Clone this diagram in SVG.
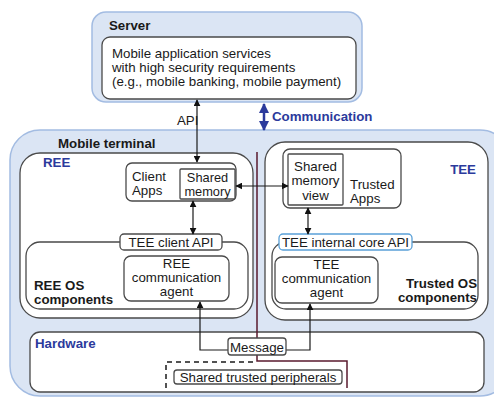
<svg xmlns="http://www.w3.org/2000/svg" width="494" height="401" viewBox="0 0 494 401">
<defs>
<marker id="ah" viewBox="0 0 10 10" refX="9" refY="5" markerWidth="7" markerHeight="7" orient="auto-start-reverse" markerUnits="userSpaceOnUse"><path d="M0,0 L10,5 L0,10 z" fill="#111"/></marker>
<marker id="bh" viewBox="0 0 10 10" refX="9" refY="5" markerWidth="10" markerHeight="10" orient="auto-start-reverse" markerUnits="userSpaceOnUse"><path d="M0,0 L10,5 L0,10 z" fill="#2b3a9c"/></marker>
<style>
text{font-family:"Liberation Sans",Arial,sans-serif;font-size:13.3px;fill:#1a1a1a}
.b{font-weight:bold}
.bl{font-weight:bold;fill:#2b3a9c}
.c{text-anchor:middle}
.r{text-anchor:end}
.s{font-size:12.8px}
.outer{fill:#dbe5f4;stroke:#a3bce2;stroke-width:1.5}
.box{fill:#fff;stroke:#4a4a4a;stroke-width:1.3}
.ln{fill:none;stroke:#1a1a1a;stroke-width:1.2}
</style>
</defs>
<g id="server">
<rect class="outer" x="92" y="12" width="270" height="90" rx="14"/>
<text class="b" x="109" y="30">Server</text>
<rect class="box" x="102" y="37" width="254" height="62" rx="8"/>
<text x="112" y="58">Mobile application services</text>
<text x="112" y="72">with high security requirements</text>
<text x="112" y="86">(e.g., mobile banking, mobile payment)</text>
</g>
<g id="mobile-terminal">
<rect class="outer" x="10" y="130" width="500" height="266" rx="30"/>
<text class="b" x="58" y="148">Mobile terminal</text>
</g>
<g id="ree">
<rect class="box" x="20" y="153" width="233" height="165" rx="20"/>
<text class="bl" x="43" y="167">REE</text>
</g>
<g id="tee">
<rect class="box" x="265" y="142" width="223" height="178" rx="20"/>
<text class="bl r" x="476" y="174">TEE</text>
</g>
<g id="client-apps">
<rect class="box" x="126" y="163" width="110" height="38" rx="6"/>
<text x="132" y="181">Client</text>
<text x="132" y="195">Apps</text>
</g>
<g id="shared-memory">
<rect class="box" x="180" y="169" width="55" height="30" rx="1"/>
<text class="c s" x="207.5" y="181.5">Shared</text>
<text class="c s" x="207.5" y="196">memory</text>
</g>
<g id="trusted-apps">
<rect class="box" x="283" y="149" width="118" height="59" rx="7"/>
<text x="350" y="189">Trusted</text>
<text x="350" y="203">Apps</text>
</g>
<g id="shared-memory-view">
<rect class="box" x="288" y="154" width="55" height="51" rx="1"/>
<text class="c" x="315.5" y="170.5">Shared</text>
<text class="c" x="315.5" y="185">memory</text>
<text class="c" x="315.5" y="199.5">view</text>
</g>
<g id="ree-os">
<rect class="box" x="26" y="242" width="222" height="67" rx="14"/>
<text class="b" x="34" y="290">REE OS</text>
<text class="b" x="34" y="304">components</text>
</g>
<g id="tee-client-api">
<rect class="box" x="120" y="234" width="102" height="16" rx="4"/>
<text class="c" x="171" y="247">TEE client API</text>
</g>
<g id="ree-agent">
<rect class="box" x="124" y="256" width="105" height="45" rx="7"/>
<text class="c" x="176.5" y="268">REE</text>
<text class="c" x="176.5" y="282">communication</text>
<text class="c" x="176.5" y="296">agent</text>
</g>
<g id="trusted-os">
<rect class="box" x="272" y="242" width="206" height="67" rx="14"/>
<text class="b r" x="477" y="288">Trusted OS</text>
<text class="b r" x="477" y="302">components</text>
</g>
<g id="tee-internal-api">
<rect x="279" y="234" width="133" height="16" rx="4" fill="#fff" stroke="#5aa0d8" stroke-width="1.3"/>
<text class="c" x="345.5" y="247">TEE internal core API</text>
</g>
<g id="tee-agent">
<rect class="box" x="275" y="257" width="103" height="46" rx="7"/>
<text class="c" x="326.5" y="269">TEE</text>
<text class="c" x="326.5" y="283">communication</text>
<text class="c" x="326.5" y="297">agent</text>
</g>
<g id="hardware">
<rect class="box" x="30" y="332" width="454" height="60" rx="10"/>
<text class="bl" x="35" y="348">Hardware</text>
</g>
<g id="peripherals">
<path d="M166,388 V362 H254" fill="none" stroke="#1a1a1a" stroke-width="1.5" stroke-dasharray="5,4"/>
<rect class="box" x="174" y="370" width="168" height="14" rx="3"/>
<text class="c" x="258" y="381.5">Shared trusted peripherals</text>
</g>
<g id="connectors">
<path d="M257,152 V361 H347 V388" fill="none" stroke="#5a1a2e" stroke-width="1.5"/>
<line class="ln" x1="197" y1="100" x2="197" y2="162" marker-start="url(#ah)" marker-end="url(#ah)"/>
<line x1="264" y1="104" x2="264" y2="130" stroke="#2b3a9c" stroke-width="2.5" marker-start="url(#bh)" marker-end="url(#bh)"/>
<line class="ln" x1="236" y1="186" x2="288" y2="186" marker-start="url(#ah)" marker-end="url(#ah)"/>
<line class="ln" x1="193" y1="201" x2="193" y2="234" marker-start="url(#ah)" marker-end="url(#ah)"/>
<line class="ln" x1="308" y1="208" x2="308" y2="234" marker-start="url(#ah)" marker-end="url(#ah)"/>
<path class="ln" d="M228,350 H200 V302" marker-end="url(#ah)"/>
<path class="ln" d="M286,350 H310 V304" marker-end="url(#ah)"/>
</g>
<g id="labels">
<text x="177" y="125">API</text>
<text class="bl" x="272" y="121">Communication</text>
</g>
<g id="message">
<rect class="box" x="228" y="338" width="58" height="17" rx="3"/>
<text class="c" x="257" y="351.5">Message</text>
</g>
</svg>
